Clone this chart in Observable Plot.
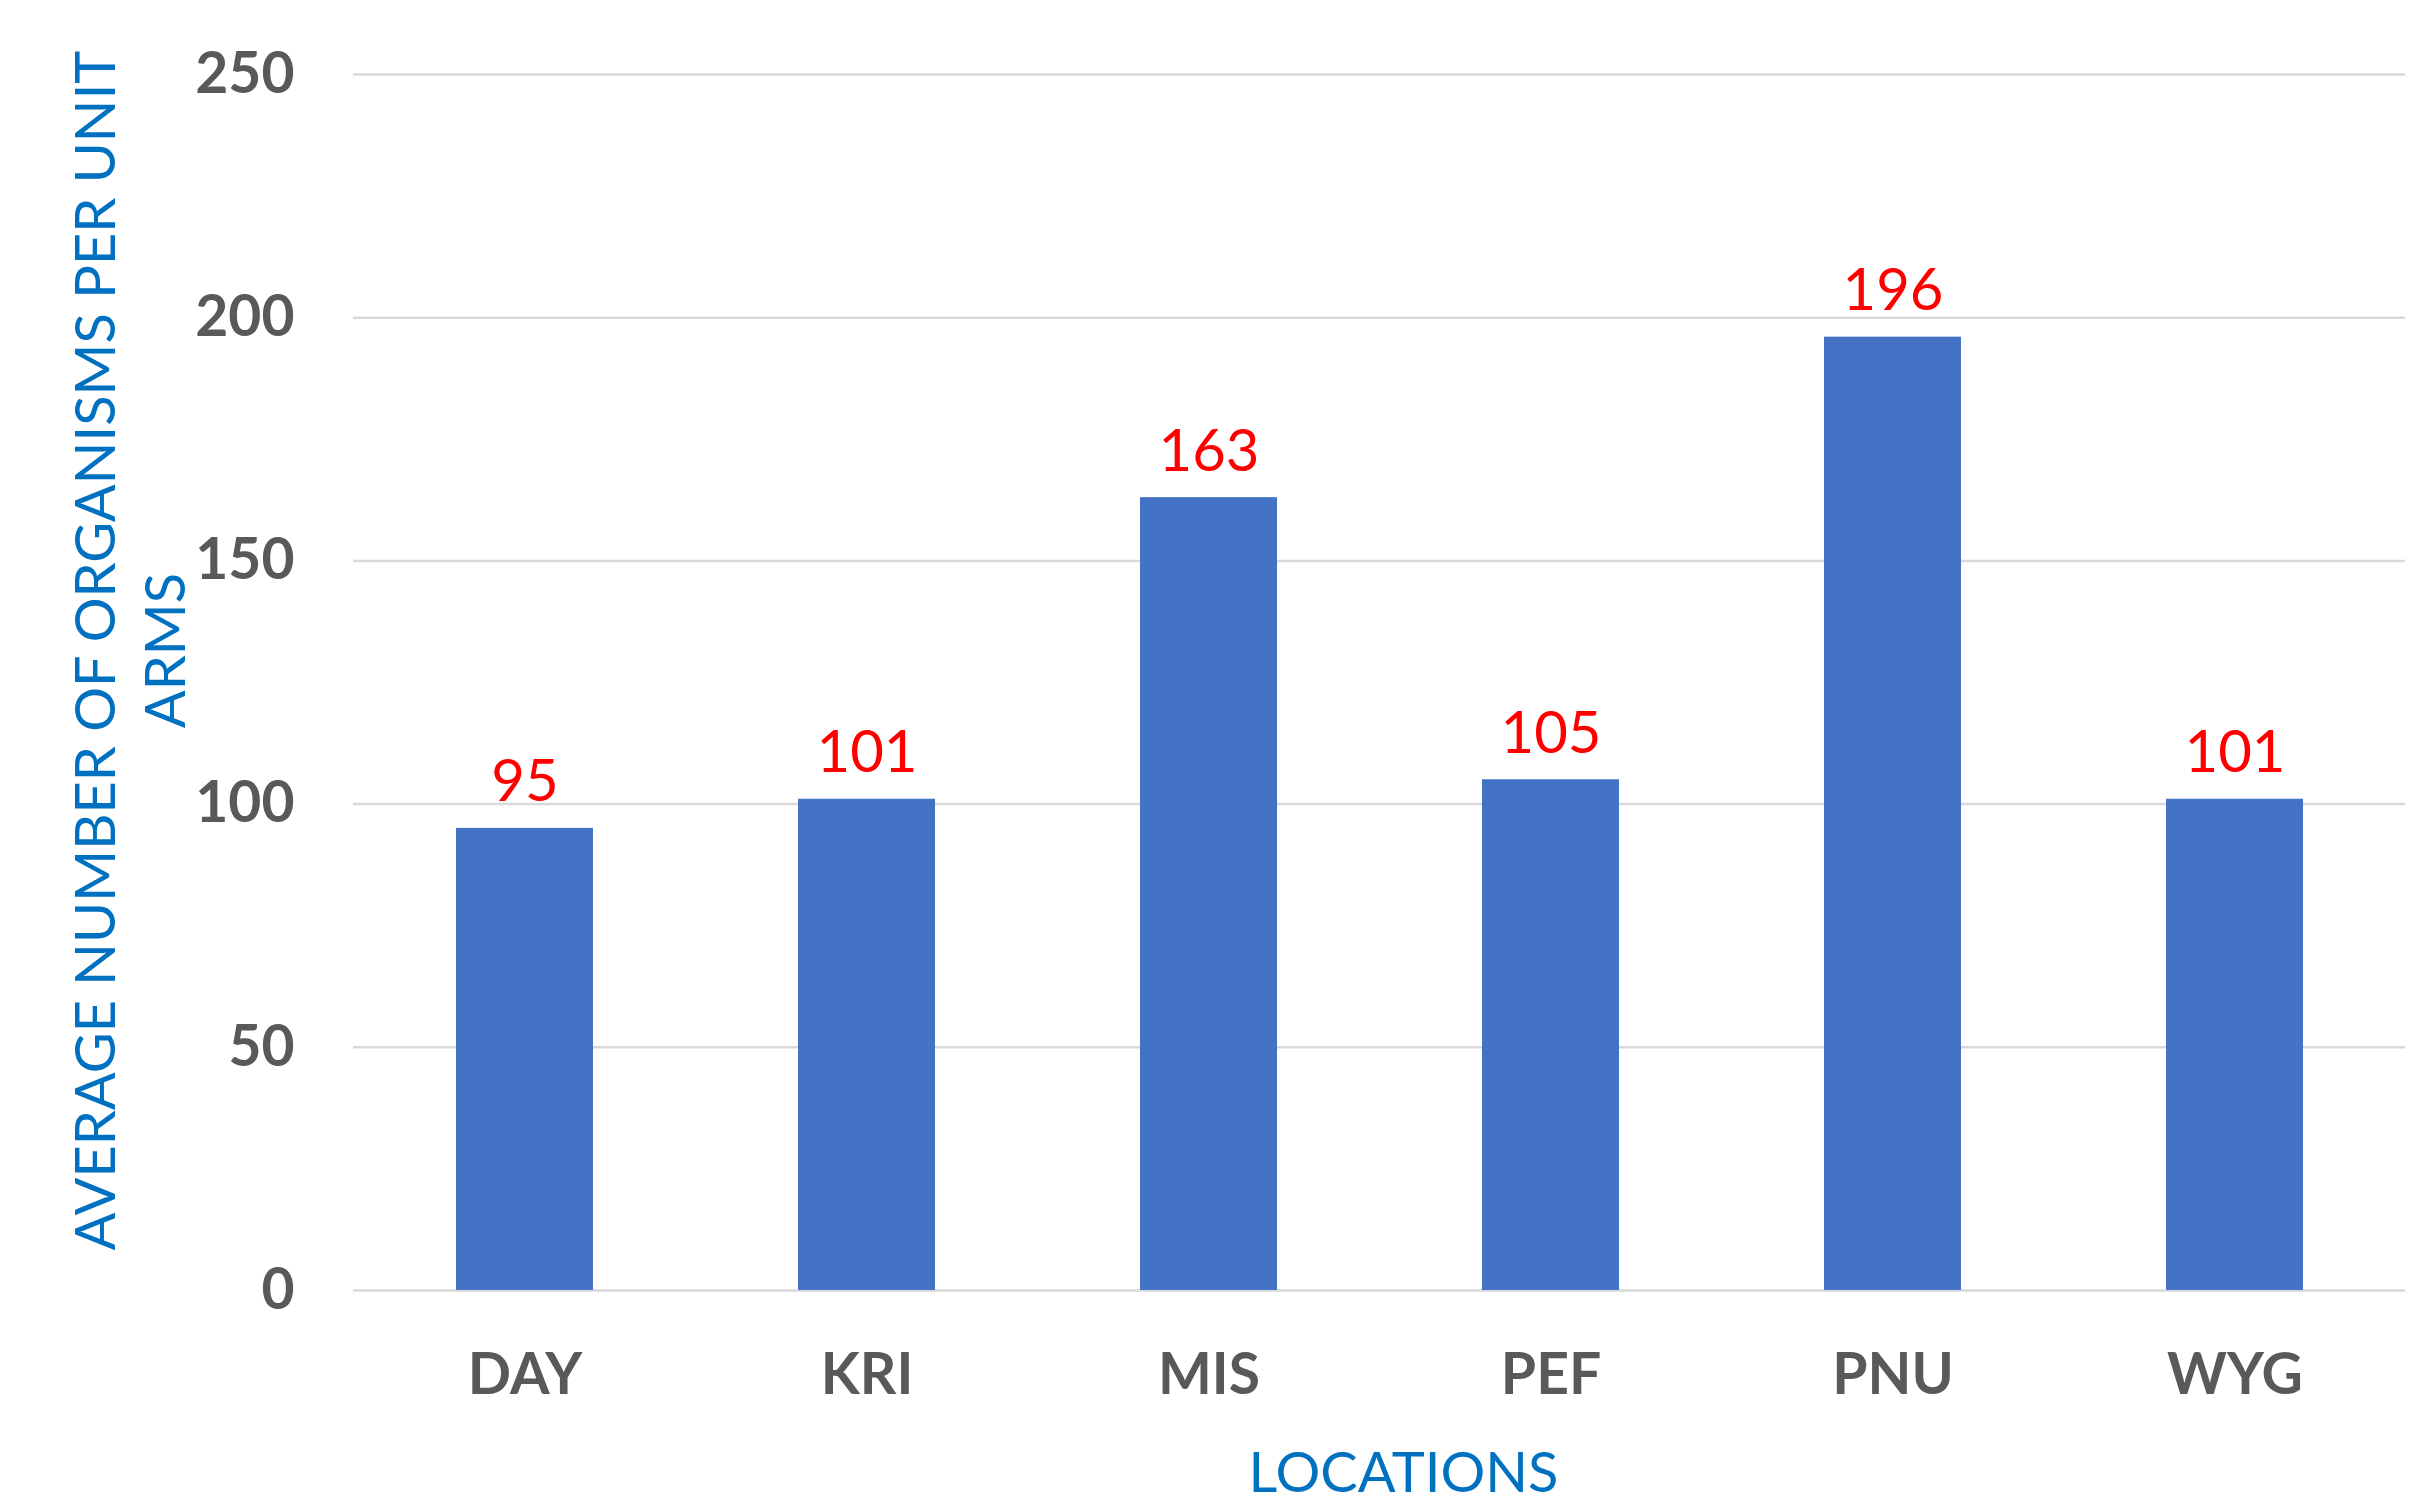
<!DOCTYPE html>
<html>
<head>
<meta charset="utf-8">
<script src="https://cdn.jsdelivr.net/npm/d3@7"></script>
<script src="https://cdn.jsdelivr.net/npm/@observablehq/plot@0.6"></script>
<style>
  html, body { margin: 0; padding: 0; background: #fff; }
  #chart svg { display: block; }
</style>
</head>
<body>
<div id="chart"></div>
<script>
const locations = ["DAY", "KRI", "MIS", "PEF", "PNU", "WYG"];
const averages = [95, 101, 163, 105, 196, 101];
const yTicks = [0, 50, 100, 150, 200, 250];
const xTitle = "LOCATIONS";
const yTitle = "AVERAGE NUMBER OF ORGANISMS PER UNIT\nARMS";

const data = locations.map((loc, i) => ({loc, value: averages[i]}));

const W = 2428, H = 1505;
const mL = 353, mR = 23, mT = 74, mB = 215;

const chart = Plot.plot({
  width: W,
  height: H,
  marginLeft: mL,
  marginRight: mR,
  marginTop: mT,
  marginBottom: mB,
  style: {fontFamily: "Lato, sans-serif", background: "#fff"},
  x: {domain: locations, paddingInner: 0.6, paddingOuter: 0.3, label: null},
  y: {domain: [0, 250], label: null},
  marks: [
    Plot.gridY(yTicks, {stroke: "#D9D9D9", strokeOpacity: 1, strokeWidth: 2.5}),
    Plot.barY(data, {x: "loc", y: "value", fill: "#4472C4"}),
    Plot.axisY(yTicks, {tickSize: 0, tickPadding: 59, fontSize: 57, fontWeight: "bold", fill: "#595959", label: null}),
    Plot.axisX({tickSize: 0, tickPadding: 63, fontSize: 57, fontWeight: "bold", fill: "#595959", label: null}),
    Plot.text(data, {x: "loc", y: "value", text: d => String(d.value), fill: "#FF0000", fontSize: 58, lineAnchor: "bottom", dy: -27}),
    Plot.text([xTitle], {frameAnchor: "bottom", dy: 184, dx: 24, fill: "#0070C0", fontSize: 56, lineAnchor: "middle", textAnchor: "middle"}),
    Plot.text([yTitle], {frameAnchor: "left", rotate: -90, dx: -226, dy: -32, fill: "#0070C0", fontSize: 56, textAnchor: "middle", lineAnchor: "middle", lineHeight: 1.25})
  ]
});
document.getElementById("chart").appendChild(chart);
</script>
</body>
</html>
